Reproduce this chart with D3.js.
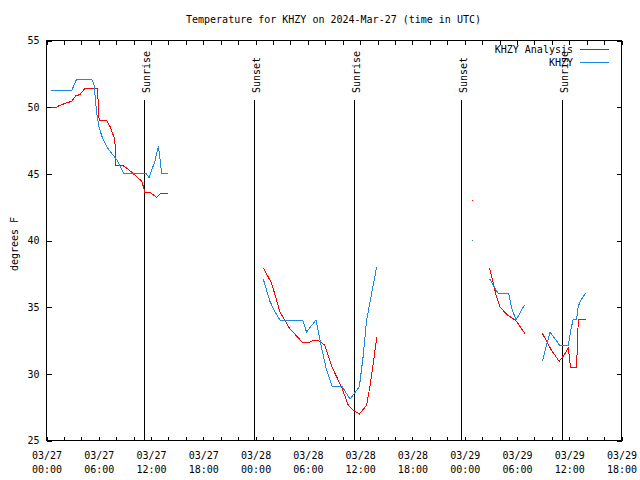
<!DOCTYPE html>
<html><head><meta charset="utf-8">
<script src="https://cdn.jsdelivr.net/npm/d3@7"></script>
<style>
body{margin:0;background:#fff}
svg{display:block}
text{font-family:"DejaVu Sans Mono",monospace;font-size:10px;fill:#000}
</style></head><body><svg id="c" width="640" height="480"></svg>
<script>
const title = "Temperature for KHZY on 2024-Mar-27 (time in UTC)";
const yLabel = "degrees F";
const seriesNames = ["KHZY Analysis", "KHZY"];
const seriesColors = ["#ff0000", "#1e88e5"];
const startTime = "2024-03-27T00:00:00Z";
const endTime = "2024-03-29T18:00:00Z";
const yDomain = [25, 55];
const yTicks = [25, 30, 35, 40, 45, 50, 55];

// hours since 2024-03-27 00:00 UTC; null temp = gap in record
const analysisHours = [0.6,1.15,1.6,2.2,2.95,3.45,3.9,4.5,5.9,6.1,6.96,7.35,7.9,8.03,8.8,9.45,10.4,11.0,11.35,11.9,12.7,13.15,13.97,
  19,24.95,25.9,26.86,27.93,29.46,30.1,30.87,31.45,32.0,32.8,33.94,34.7,35.27,35.97,36.8,37.2,37.57,37.96,
  43,48.93,50,50.9,51.27,51.7,52.1,52.9,53.6,54.0,55.0,
  56,56.97,58.0,58.9,59.4,59.95,60.2,60.9,61.1,61.95];
const analysisTemps = [49.95,49.95,50.1,50.25,50.4,50.83,50.9,51.4,51.4,49.0,49.0,48.5,47.55,45.6,45.6,45.3,44.75,44.4,43.6,43.6,43.2,43.5,43.5,
  null,37.9,36.75,34.6,33.4,32.3,32.3,32.5,32.4,32.1,30.5,28.95,27.6,27.25,26.95,27.6,29.1,30.75,32.7,
  null,42.97,null,37.9,37.0,35.75,35.0,34.4,34.1,33.9,32.95,
  null,33.0,31.75,30.9,31.3,31.9,30.45,30.45,34.05,34.05];

const obsHours = [0.6,2.95,3.5,5.24,5.5,5.8,6.08,6.4,6.97,7.54,8.2,8.9,11.48,11.82,12.5,12.9,13.28,13.97,
  19,24.95,25.7,26.3,26.86,29.46,29.9,31.0,31.6,32.2,32.86,34.0,34.9,35.97,36.4,36.8,37.96,
  43,48.93,50,50.9,51.9,53.1,53.45,53.95,54.9,
  56,56.97,57.85,59.0,59.95,60.2,60.5,60.9,61.1,61.5,61.95];
const obsTemps = [51.2,51.2,52.05,52.05,51.75,49.6,48.5,47.8,47.0,46.5,45.95,45.0,45.0,44.68,45.9,47.05,45.0,45.0,
  null,37.05,35.4,34.6,34.0,34.0,33.1,34.0,32.0,30.25,29.0,29.0,28.07,29.0,31.25,34.0,38.0,
  null,39.98,null,37.1,36.0,36.0,34.9,34.0,35.1,
  null,30.9,33.1,32.07,32.07,33.1,34.05,34.05,35.05,35.6,36.0];

const eventLabels = ["Sunrise", "Sunset", "Sunrise", "Sunset", "Sunrise"];
const eventHours = [11.25, 23.87, 35.35, 47.63, 59.19];

const svg = d3.select("#c");
const L = 46, R = 621, T = 40, B = 440;
const t0 = new Date(startTime);
const toDate = h => new Date(t0.getTime() + h * 3600e3);
const x = d3.scaleUtc().domain([t0, new Date(endTime)]).range([L, R]);
const y = d3.scaleLinear().domain(yDomain).range([B, T]);

// title
svg.append("text").attr("x", (L + R) / 2).attr("y", 23).attr("text-anchor", "middle").text(title);
// y label
svg.append("text").attr("transform", "translate(18,244) rotate(-90)").attr("text-anchor", "middle").text(yLabel);

const tickTimes = d3.utcHour.every(2).range(t0, new Date(new Date(endTime).getTime() + 1));
const fmtD = d3.utcFormat("%m/%d"), fmtH = d3.utcFormat("%H:%M");

// bottom axis
const gx = svg.append("g").attr("transform", `translate(0.5,${B + 0.5})`)
  .call(d3.axisBottom(x).tickValues(tickTimes).tickSize(-4).tickPadding(11).tickFormat(d => d.getUTCHours() % 6 === 0 ? "lbl" : ""));
gx.select(".domain").remove();
gx.selectAll(".tick text").each(function(d) {
  const t = d3.select(this);
  if (t.text() === "") return;
  t.text(null).attr("dy", null).attr("y", 18).attr("font-family", null).attr("font-size", null);
  t.append("tspan").attr("x", 0).attr("y", 18).text(fmtD(d));
  t.append("tspan").attr("x", 0).attr("y", 32).text(fmtH(d));
});
// top axis
const gt = svg.append("g").attr("transform", `translate(0.5,${T + 0.5})`)
  .call(d3.axisTop(x).tickValues(tickTimes).tickSize(-4).tickFormat(""));
gt.select(".domain").remove();
// left axis
const gy = svg.append("g").attr("transform", `translate(${L + 0.5},0.5)`)
  .call(d3.axisLeft(y).tickValues(yTicks).tickSize(-5).tickPadding(7).tickFormat(d3.format("d")));
gy.select(".domain").remove();
// right axis
const gr = svg.append("g").attr("transform", `translate(${R + 0.5},0.5)`)
  .call(d3.axisRight(y).tickValues(yTicks).tickSize(-5).tickFormat(""));
gr.select(".domain").remove();
svg.selectAll(".tick text").attr("font-family", null).attr("font-size", null).style("font-family", '"DejaVu Sans Mono",monospace').style("font-size", "10px");
svg.selectAll(".tick line").attr("stroke", "#000").attr("shape-rendering", "crispEdges");

// frame
svg.append("rect").attr("x", L + 0.5).attr("y", T + 0.5).attr("width", R - L).attr("height", B - T)
  .attr("fill", "none").attr("stroke", "#000").attr("shape-rendering", "crispEdges");

// sunrise / sunset
eventHours.forEach((h, i) => {
  const xe = Math.round(x(toDate(h))) + 0.5;
  svg.append("line").attr("x1", xe).attr("x2", xe).attr("y1", 100).attr("y2", B)
    .attr("stroke", "#000").attr("shape-rendering", "crispEdges");
  svg.append("text").attr("transform", `translate(${xe + 5},93) rotate(-90)`).text(eventLabels[i]);
});

// series
const series = [
  { name: seriesNames[0], color: seriesColors[0], data: analysisHours.map((h, i) => ({ t: toDate(h), v: analysisTemps[i] })) },
  { name: seriesNames[1], color: seriesColors[1], data: obsHours.map((h, i) => ({ t: toDate(h), v: obsTemps[i] })) }
];
const line = d3.line().defined(d => d.v != null).x(d => x(d.t)).y(d => y(d.v));
series.forEach(s => {
  svg.append("path").attr("d", line(s.data)).attr("fill", "none").attr("stroke", s.color)
    .attr("stroke-width", 1).attr("shape-rendering", "crispEdges");
  const iso = s.data.filter((d, i, a) => d.v != null && (i === 0 || a[i - 1].v == null) && (i === a.length - 1 || a[i + 1].v == null));
  svg.selectAll(null).data(iso).enter().append("rect")
    .attr("x", d => Math.round(x(d.t))).attr("y", d => Math.round(y(d.v))).attr("width", 1).attr("height", 1)
    .attr("fill", s.color).attr("shape-rendering", "crispEdges");
});

// legend
series.forEach((s, i) => {
  const ly = 53 + i * 12.5;
  svg.append("text").attr("x", 573).attr("y", ly).attr("text-anchor", "end").text(s.name);
  svg.append("line").attr("x1", 580).attr("x2", 609).attr("y1", Math.round(ly - 4) + 0.5).attr("y2", Math.round(ly - 4) + 0.5)
    .attr("stroke", s.color).attr("shape-rendering", "crispEdges");
});
</script></body></html>
